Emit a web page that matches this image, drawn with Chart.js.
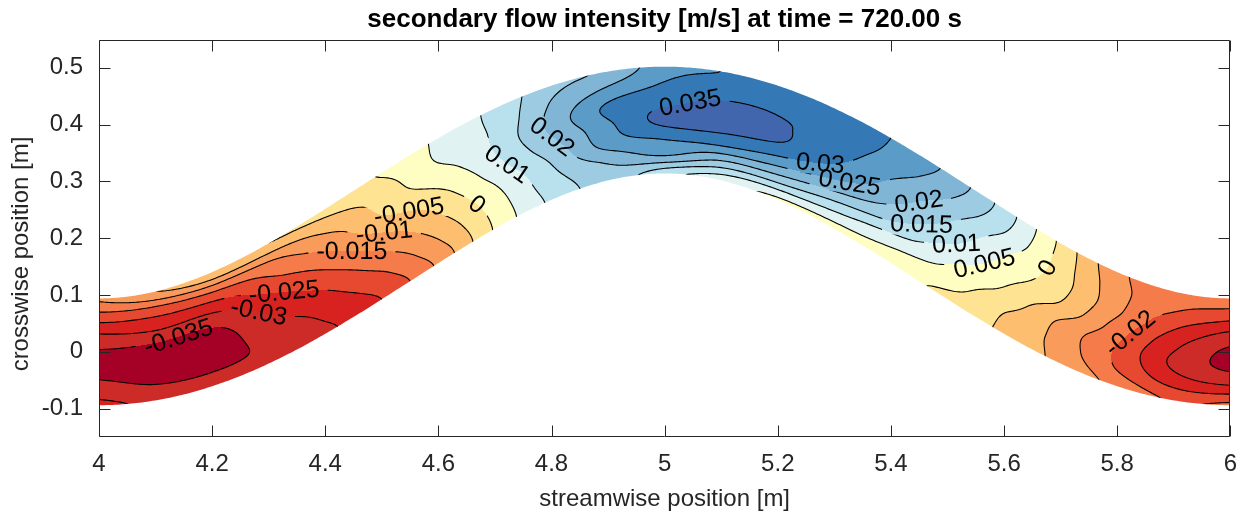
<!DOCTYPE html>
<html lang="en">
<head>
<meta charset="UTF-8">
<title>Secondary flow intensity</title>
<script src="https://cdn.jsdelivr.net/npm/chart.js"></script>
<style>
  body { margin: 0; background: #fff; }
  #wrap { width: 1250px; height: 525px; }
</style>
</head>
<body>
<div id="wrap"><canvas id="flowChart" width="1250" height="525"></canvas></div>
<script>
// channel centreline (y of the middle of the channel at each x)
const centreX = [4.0, 4.1, 4.2, 4.3, 4.4, 4.5, 4.6, 4.7, 4.8, 4.9, 5.0, 5.1, 5.2, 5.3, 5.4, 5.5, 5.6, 5.7, 5.8, 5.9, 6.0];
const centreY = [0, 0.010, 0.039, 0.084, 0.141, 0.204, 0.267, 0.324, 0.369, 0.398, 0.408, 0.398, 0.369, 0.324, 0.267, 0.204, 0.141, 0.084, 0.039, 0.010, 0];
const halfWidth = 0.094;

// secondary flow intensity [m/s] at the stations centreX,
// one array per position across the channel (-1 = lower bank, +1 = upper bank)
const acrossN = [-1, -2 / 3, -1 / 3, 0, 1 / 3, 2 / 3, 1];
const n_m100 = [-0.029, -0.031, -0.032, -0.0335, -0.031, -0.025, -0.014, 0.0005, 0.011, 0.017, 0.012, 0.007, 0.004, 0.003, 0.002, -0.0015, -0.006, -0.0115, -0.0165, -0.0205, -0.019];
const n_m067 = [-0.033, -0.0355, -0.036, -0.034, -0.029, -0.0215, -0.0105, 0.002, 0.013, 0.0205, 0.025, 0.019, 0.0165, 0.0115, 0.0065, 0.0025, -0.005, -0.012, -0.0205, -0.027, -0.029];
const n_m033 = [-0.037, -0.039, -0.038, -0.0315, -0.0255, -0.0165, -0.0065, 0.0045, 0.0155, 0.027, 0.0305, 0.031, 0.0275, 0.0215, 0.015, 0.0065, -0.001, -0.011, -0.0205, -0.031, -0.0355];
const n_000 = [-0.0355, -0.036, -0.0355, -0.028, -0.0205, -0.011, -0.0025, 0.008, 0.019, 0.029, 0.0365, 0.0365, 0.035, 0.029, 0.021, 0.012, 0.0025, -0.0055, -0.0175, -0.029, -0.036];
const n_p033 = [-0.030, -0.029, -0.029, -0.022, -0.015, -0.005, 0.002, 0.0105, 0.0215, 0.031, 0.034, 0.036, 0.0355, 0.0325, 0.025, 0.0165, 0.006, -0.003, -0.014, -0.0245, -0.031];
const n_p067 = [-0.022, -0.022, -0.0195, -0.016, -0.009, -0.0025, 0.0055, 0.011, 0.0205, 0.026, 0.0305, 0.033, 0.034, 0.0335, 0.0285, 0.021, 0.0105, -0.002, -0.013, -0.0195, -0.023];
const n_p100 = [-0.014, -0.010, -0.0055, -0.005, -0.003, 0.0005, 0.006, 0.0115, 0.0185, 0.021, 0.028, 0.030, 0.033, 0.033, 0.030, 0.024, 0.013, -0.001, -0.0135, -0.0175, -0.017];
const acrossRows = [n_m100, n_m067, n_m033, n_000, n_p033, n_p067, n_p100];

// contour levels and the colour of each band between them
const levels = [-0.035, -0.03, -0.025, -0.02, -0.015, -0.01, -0.005, 0, 0.005, 0.01, 0.015, 0.02, 0.025, 0.03, 0.035];
const bandColors = ['#a50026', '#cc2b27', '#d8221f', '#e6492f', '#f57c4a', '#f99b5b', '#fdbe6f', '#fee393',
                    '#fefec3', '#e0f3f2', '#b8e0ed', '#9dcbe2', '#80b5d6', '#5a9bc8', '#3479b6', '#4266ae'];

// inline contour labels: level and rough place on the plot
const labelLevels = [-0.035, -0.03, -0.025, -0.015, -0.01, -0.005, 0, 0.01, 0.02, 0.035, 0.03, 0.025, 0.02, 0.015, 0.01, 0.005, 0, -0.02];
const labelX = [4.139, 4.283, 4.327, 4.447, 4.504, 4.548, 4.667, 4.720, 4.803, 5.044, 5.275, 5.326, 5.449, 5.454, 5.516, 5.565, 5.678, 5.829];
const labelY = [0.030, 0.074, 0.109, 0.179, 0.212, 0.246, 0.258, 0.328, 0.381, 0.444, 0.330, 0.293, 0.265, 0.226, 0.188, 0.156, 0.147, 0.026];

const xTicks = [4, 4.2, 4.4, 4.6, 4.8, 5, 5.2, 5.4, 5.6, 5.8, 6];
const yTicks = [-0.1, 0, 0.1, 0.2, 0.3, 0.4, 0.5];

const fontFamily = '"Liberation Sans", Arial, Helvetica, sans-serif';
const axisColor = '#262626';
const tickLen = 11;

function fmt(v) {
    const r = Number(v.toFixed(3));
    return r === 0 ? '0' : String(r);
}

function catmull(p0, p1, p2, p3, t) {
    return 0.5 * ((2 * p1) + (-p0 + p2) * t + (2 * p0 - 5 * p1 + 4 * p2 - p3) * t * t + (-p0 + 3 * p1 - 3 * p2 + p3) * t * t * t);
}

// centreline (mirrored past both ends) with first and second derivative
function centre(s) {
    const N = centreY.length;
    const h = centreX[1] - centreX[0];
    const u = (s - centreX[0]) / h;
    const i = Math.floor(u), t = u - i;
    const p = k => {
        if (k < 0) k = -k;
        if (k > N - 1) k = 2 * (N - 1) - k;
        k = Math.max(0, Math.min(N - 1, k));
        return centreY[k];
    };
    const p0 = p(i - 1), p1 = p(i), p2 = p(i + 1), p3 = p(i + 2);
    const a0 = -0.5 * p0 + 1.5 * p1 - 1.5 * p2 + 0.5 * p3;
    const a1 = p0 - 2.5 * p1 + 2 * p2 - 0.5 * p3;
    const a2 = -0.5 * p0 + 0.5 * p2;
    return {
        y: ((a0 * t + a1) * t + a2) * t + p1,
        dy: ((3 * a0 * t + 2 * a1) * t + a2) / h,
        d2y: (6 * a0 * t + 2 * a1) / (h * h)
    };
}

// position across the channel: -1 lower bank ... +1 upper bank
function acrossPos(xv, yv) {
    let s = xv;
    for (let k = 0; k < 5; k++) {
        const c = centre(s);
        const f = (xv - s) + (yv - c.y) * c.dy;
        const fp = -1 - c.dy * c.dy + (yv - c.y) * c.d2y;
        let step = f / fp;
        step = Math.max(-0.1, Math.min(0.1, step));
        s -= step;
    }
    const c = centre(s);
    const d = ((yv - c.y) - (xv - s) * c.dy) / Math.sqrt(1 + c.dy * c.dy);
    return d / halfWidth;
}

// values were read in vertical sections, so the column is the plot x
function fieldValue(xv, n) {
    const cols = centreX.length, rows = acrossN.length;
    let u = (xv - centreX[0]) / (centreX[1] - centreX[0]);
    u = Math.max(0, Math.min(cols - 1, u));
    let v = (Math.max(-1, Math.min(1, n)) - acrossN[0]) / (acrossN[1] - acrossN[0]);
    v = Math.max(0, Math.min(rows - 1, v));
    const i = Math.min(cols - 2, Math.floor(u)), j = Math.min(rows - 2, Math.floor(v));
    const tu = u - i, tv = v - j;
    const ci = k => Math.max(0, Math.min(cols - 1, k));
    const cj = k => Math.max(0, Math.min(rows - 1, k));
    const col = [];
    for (let a = -1; a <= 2; a++) {
        const r = acrossRows[cj(j + a)];
        col.push(catmull(r[ci(i - 1)], r[ci(i)], r[ci(i + 1)], r[ci(i + 2)], tu));
    }
    return catmull(col[0], col[1], col[2], col[3], tv);
}

function fieldAt(xv, yv) {
    return fieldValue(xv, acrossPos(xv, yv));
}

function hexRgb(hex) {
    return [parseInt(hex.slice(1, 3), 16), parseInt(hex.slice(3, 5), 16), parseInt(hex.slice(5, 7), 16)];
}

function channelPath(ctx, xs, ys) {
    const up = [], lo = [];
    for (let s = 3.9; s <= 6.1001; s += 0.004) {
        const c = centre(s);
        const k = Math.sqrt(1 + c.dy * c.dy);
        const nx = -c.dy / k, ny = 1 / k;
        up.push([xs.getPixelForValue(s + halfWidth * nx), ys.getPixelForValue(c.y + halfWidth * ny)]);
        lo.push([xs.getPixelForValue(s - halfWidth * nx), ys.getPixelForValue(c.y - halfWidth * ny)]);
    }
    ctx.beginPath();
    up.forEach((p, i) => i ? ctx.lineTo(p[0], p[1]) : ctx.moveTo(p[0], p[1]));
    lo.reverse().forEach(p => ctx.lineTo(p[0], p[1]));
    ctx.closePath();
}

const flowPlugin = {
    id: 'flowField',
    beforeDatasetsDraw(chart) {
        const { ctx, chartArea: a, scales: { x: xs, y: ys } } = chart;
        const w = Math.round(a.right - a.left), h = Math.round(a.bottom - a.top);
        const F = new Float32Array(w * h);
        const off = document.createElement('canvas');
        off.width = w; off.height = h;
        const octx = off.getContext('2d');
        const img = octx.createImageData(w, h);
        const rgb = bandColors.map(hexRgb);
        const xv = [];
        for (let i = 0; i < w; i++) xv.push(xs.getValueForPixel(a.left + i + 0.5));
        const cy = xv.map(v => centre(v).y);

        for (let j = 0; j < h; j++) {
            const yv = ys.getValueForPixel(a.top + j + 0.5);
            for (let i = 0; i < w; i++) {
                const idx = j * w + i;
                if (Math.abs(yv - cy[i]) > 0.2) { F[idx] = NaN; continue; }
                const n = acrossPos(xv[i], yv);
                if (Math.abs(n) > 1.15) { F[idx] = NaN; continue; }
                const v = fieldValue(xv[i], n);
                F[idx] = v;
                let b = 0;
                while (b < levels.length && v >= levels[b]) b++;
                const c = rgb[b];
                img.data[idx * 4] = c[0];
                img.data[idx * 4 + 1] = c[1];
                img.data[idx * 4 + 2] = c[2];
                img.data[idx * 4 + 3] = 255;
            }
        }
        octx.putImageData(img, 0, 0);

        ctx.save();
        ctx.beginPath();
        ctx.rect(a.left, a.top, a.right - a.left, a.bottom - a.top);
        ctx.clip();
        channelPath(ctx, xs, ys);
        ctx.clip();
        ctx.drawImage(off, a.left, a.top);

        // labels: snap each to its contour and turn it along the line
        const labelFont = '25px ' + fontFamily;
        ctx.font = labelFont;
        const labels = labelLevels.map((L, k) => {
            let px = labelX[k], py = labelY[k], gx = 0, gy = 0;
            const e = 0.001;
            for (let it = 0; it < 12; it++) {
                const f = fieldAt(px, py) - L;
                gx = (fieldAt(px + e, py) - fieldAt(px - e, py)) / (2 * e);
                gy = (fieldAt(px, py + e) - fieldAt(px, py - e)) / (2 * e);
                const g2 = gx * gx + gy * gy;
                if (g2 < 1e-12) break;
                let dx = -f * gx / g2, dy = -f * gy / g2;
                const len = Math.hypot(dx, dy);
                if (len > 0.008) { dx *= 0.008 / len; dy *= 0.008 / len; }
                px += dx; py += dy;
            }
            if (Math.hypot(px - labelX[k], py - labelY[k]) > 0.035) { px = labelX[k]; py = labelY[k]; }
            let ang = Math.atan2(gx, gy);
            if (ang > Math.PI / 2) ang -= Math.PI;
            if (ang <= -Math.PI / 2) ang += Math.PI;
            const text = fmt(L);
            return { x: xs.getPixelForValue(px), y: ys.getPixelForValue(py), ang, text, tw: ctx.measureText(text).width };
        });

        // contour lines (marching squares), with gaps where labels sit
        ctx.save();
        ctx.beginPath();
        ctx.rect(a.left - 5, a.top - 5, a.right - a.left + 10, a.bottom - a.top + 10);
        labels.forEach(lb => {
            const cw = Math.cos(lb.ang), sw = Math.sin(lb.ang);
            const hw = lb.tw / 2 + 8, hh = 11;
            const pts = [[-hw, -hh], [hw, -hh], [hw, hh], [-hw, hh]].map(p => [lb.x + p[0] * cw - p[1] * sw, lb.y + p[0] * sw + p[1] * cw]);
            ctx.moveTo(pts[0][0], pts[0][1]);
            for (let m = 1; m < 4; m++) ctx.lineTo(pts[m][0], pts[m][1]);
            ctx.closePath();
        });
        ctx.clip('evenodd');

        const st = 2;
        ctx.strokeStyle = '#000';
        ctx.lineWidth = 1.1;
        ctx.lineCap = 'round';
        ctx.beginPath();
        for (let j = 0; j + st < h; j += st) {
            for (let i = 0; i + st < w; i += st) {
                const v0 = F[j * w + i], v1 = F[j * w + i + st], v2 = F[(j + st) * w + i + st], v3 = F[(j + st) * w + i];
                if (isNaN(v0) || isNaN(v1) || isNaN(v2) || isNaN(v3)) continue;
                const lo = Math.min(v0, v1, v2, v3), hi = Math.max(v0, v1, v2, v3);
                const X = a.left + i + 0.5, Y = a.top + j + 0.5;
                for (const L of levels) {
                    if (L <= lo || L > hi) continue;
                    const pts = [];
                    if ((v0 >= L) !== (v1 >= L)) pts.push([X + st * (L - v0) / (v1 - v0), Y]);
                    if ((v1 >= L) !== (v2 >= L)) pts.push([X + st, Y + st * (L - v1) / (v2 - v1)]);
                    if ((v3 >= L) !== (v2 >= L)) pts.push([X + st * (L - v3) / (v2 - v3), Y + st]);
                    if ((v0 >= L) !== (v3 >= L)) pts.push([X, Y + st * (L - v0) / (v3 - v0)]);
                    if (pts.length === 2) {
                        ctx.moveTo(pts[0][0], pts[0][1]); ctx.lineTo(pts[1][0], pts[1][1]);
                    } else if (pts.length === 4) {
                        const mid = (v0 + v1 + v2 + v3) / 4;
                        if ((mid >= L) === (v0 >= L)) {
                            ctx.moveTo(pts[0][0], pts[0][1]); ctx.lineTo(pts[1][0], pts[1][1]);
                            ctx.moveTo(pts[2][0], pts[2][1]); ctx.lineTo(pts[3][0], pts[3][1]);
                        } else {
                            ctx.moveTo(pts[0][0], pts[0][1]); ctx.lineTo(pts[3][0], pts[3][1]);
                            ctx.moveTo(pts[1][0], pts[1][1]); ctx.lineTo(pts[2][0], pts[2][1]);
                        }
                    }
                }
            }
        }
        ctx.stroke();
        ctx.restore();
        ctx.restore();

        ctx.save();
        ctx.fillStyle = '#000';
        ctx.font = labelFont;
        ctx.textAlign = 'center';
        ctx.textBaseline = 'middle';
        labels.forEach(lb => {
            ctx.save();
            ctx.translate(lb.x, lb.y);
            ctx.rotate(lb.ang);
            ctx.fillText(lb.text, 0, 1);
            ctx.restore();
        });
        ctx.restore();
    },
    afterDraw(chart) {
        const { ctx, chartArea: a, scales: { x: xs, y: ys } } = chart;
        ctx.save();
        ctx.strokeStyle = axisColor;
        ctx.lineWidth = 1;
        const L = Math.round(a.left) + 0.5, R = Math.round(a.right) - 0.5;
        const T = Math.round(a.top) + 0.5, B = Math.round(a.bottom) - 0.5;
        ctx.beginPath();
        ctx.rect(L, T, R - L, B - T);
        xTicks.forEach(v => {
            const p = Math.round(xs.getPixelForValue(v)) + 0.5;
            ctx.moveTo(p, B); ctx.lineTo(p, B - tickLen);
            ctx.moveTo(p, T); ctx.lineTo(p, T + tickLen);
        });
        yTicks.forEach(v => {
            const p = Math.round(ys.getPixelForValue(v)) + 0.5;
            ctx.moveTo(L, p); ctx.lineTo(L + tickLen, p);
            ctx.moveTo(R, p); ctx.lineTo(R - tickLen, p);
        });
        ctx.stroke();

        ctx.fillStyle = axisColor;
        ctx.font = '24px ' + fontFamily;
        ctx.textAlign = 'center';
        ctx.textBaseline = 'middle';
        ctx.translate(21, 254);
        ctx.rotate(-Math.PI / 2);
        ctx.fillText('crosswise position [m]', 0, 0);
        ctx.setTransform(1, 0, 0, 1, 0, 0);

        ctx.fillStyle = '#000';
        ctx.font = 'bold 26px ' + fontFamily;
        ctx.fillText('secondary flow intensity [m/s] at time = 720.00 s', (a.left + a.right) / 2, 20);
        ctx.restore();
    }
};

const tickFont = { family: fontFamily, size: 24 };

new Chart(document.getElementById('flowChart').getContext('2d'), {
    type: 'scatter',
    data: { datasets: [{ data: [] }] },
    options: {
        responsive: false,
        animation: false,
        events: [],
        layout: { padding: { top: 40, right: 15, left: 0, bottom: 0 } },
        plugins: { legend: { display: false }, tooltip: { enabled: false }, title: { display: false } },
        scales: {
            x: {
                type: 'linear', min: 4, max: 6,
                grid: { display: false, drawTicks: false },
                border: { display: false },
                afterBuildTicks: s => { s.ticks = xTicks.map(v => ({ value: v })); },
                afterFit: s => { s.height = 88; },
                ticks: { font: tickFont, color: axisColor, padding: 13, autoSkip: false, maxRotation: 0, callback: v => fmt(v) },
                title: { display: true, text: 'streamwise position [m]', font: tickFont, color: axisColor, padding: { top: 0, bottom: 11 } }
            },
            y: {
                type: 'linear', min: -0.15, max: 0.549,
                grid: { display: false, drawTicks: false },
                border: { display: false },
                afterBuildTicks: s => { s.ticks = yTicks.map(v => ({ value: v })); },
                afterFit: s => { s.width = 99; },
                ticks: { font: tickFont, color: axisColor, padding: 16, autoSkip: false, callback: v => fmt(v) },
                title: { display: false }
            }
        }
    },
    plugins: [flowPlugin]
});
</script>
</body>
</html>
